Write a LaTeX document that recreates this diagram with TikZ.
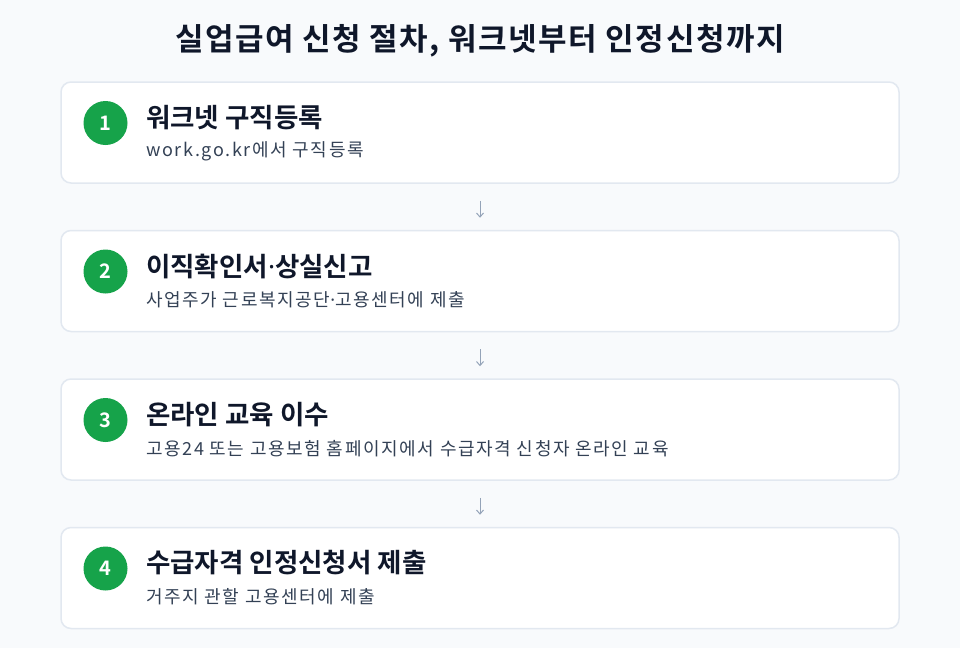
\documentclass[tikz,border=0pt]{standalone}
\usepackage{fontspec}
\usetikzlibrary{arrows.meta}
\setmainfont{Noto Sans CJK KR}[BoldFont={Noto Sans CJK KR Bold}]
\newfontfamily\dotfont{Noto Sans}
\newcommand{\middot}{{\dotfont\addfontfeature{LetterSpace=0}·}}
\definecolor{bgcol}{HTML}{F8FAFC}
\definecolor{linecol}{HTML}{E2E8F0}
\definecolor{stepgreen}{HTML}{16A34A}
\definecolor{inkcol}{HTML}{0F172A}
\definecolor{subcol}{HTML}{334155}
\definecolor{arrowcol}{HTML}{94A3B8}
\begin{document}
\begin{tikzpicture}[x=1pt, y=-1pt,
  card/.style={draw=linecol, line width=1.5pt, fill=white, rounded corners=10pt, minimum width=838pt, minimum height=101pt, inner sep=0pt},
  badge/.style={circle, fill=stepgreen, minimum size=44pt, inner sep=0pt, text=white, font=\bfseries\fontsize{20}{20}\selectfont},
  steptitle/.style={anchor=west, inner sep=0pt, text=inkcol, font=\bfseries\fontsize{26.5}{26.5}\selectfont},
  stepnote/.style={anchor=west, inner sep=0pt, text=subcol, font=\fontsize{18}{18}\selectfont\addfontfeature{LetterSpace=9}},
  flow/.style={draw=arrowcol, line width=1pt, -{Straight Barb[length=4pt,width=7pt]}, shorten <=17pt, shorten >=12pt}]
\fill[bgcol] (0,0) rectangle (960,648);
\useasboundingbox (0,0) rectangle (960,648);
\node[text=inkcol, font=\bfseries\fontsize{31}{31}\selectfont\addfontfeature{LetterSpace=5}] (title) at (480,41) {실업급여 신청 절차, 워크넷부터 인정신청까지};
% step 1
\node[card] (card1) at (480,132.5){};
\node[badge] (num1) at (105.5,123){1};
\node[steptitle] (head1) at (146,117.5){워크넷 구직등록};
\node[stepnote] (note1) at (146,151.5){work.go.kr에서 구직등록};
% step 2
\node[card] (card2) at (480,281){};
\node[badge] (num2) at (105.5,271.5){2};
\node[steptitle] (head2) at (146,266){이직확인서\middot 상실신고};
\node[stepnote] (note2) at (146,300){사업주가 근로복지공단\middot 고용센터에 제출};
% step 3
\node[card] (card3) at (480,429.5){};
\node[badge] (num3) at (105.5,420){3};
\node[steptitle] (head3) at (146,414.5){온라인 교육 이수};
\node[stepnote] (note3) at (146,448.5){고용24 또는 고용보험 홈페이지에서 수급자격 신청자 온라인 교육};
% step 4
\node[card] (card4) at (480,578){};
\node[badge] (num4) at (105.5,568.5){4};
\node[steptitle] (head4) at (146,563){수급자격 인정신청서 제출};
\node[stepnote] (note4) at (146,597){거주지 관할 고용센터에 제출};
\draw[flow] (card1) -- (card2);
\draw[flow] (card2) -- (card3);
\draw[flow] (card3) -- (card4);
\end{tikzpicture}
\end{document}
